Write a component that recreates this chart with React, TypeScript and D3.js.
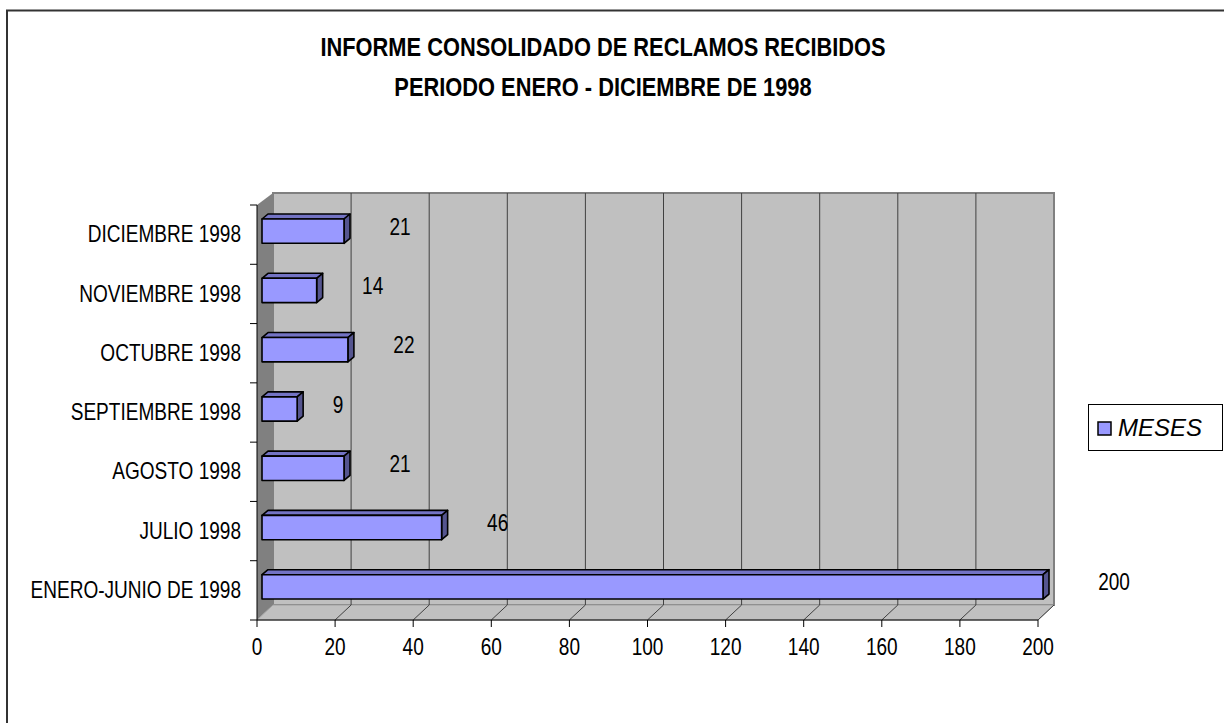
import React from "react";
import * as d3 from "d3";

const categories = [
  "DICIEMBRE 1998",
  "NOVIEMBRE 1998",
  "OCTUBRE 1998",
  "SEPTIEMBRE 1998",
  "AGOSTO 1998",
  "JULIO 1998",
  "ENERO-JUNIO DE 1998",
];
const values = [21, 14, 22, 9, 21, 46, 200];
const xTicks = [0, 20, 40, 60, 80, 100, 120, 140, 160, 180, 200];
const titleLines = [
  "INFORME CONSOLIDADO DE RECLAMOS RECIBIDOS",
  "PERIODO ENERO - DICIEMBRE DE 1998",
];
const seriesName = "MESES";

const W = 1224;
const H = 723;
const FONT = "Arial, 'Liberation Sans', sans-serif";
const SX = 0.81;

// 3D frame geometry
const frontTop = 205;
const frontBottom = 620;
const backTop = 193;
const backBottom = 605;

const xFront = d3.scaleLinear().domain([0, 200]).range([257, 1038]);
const xBack = d3.scaleLinear().domain([0, 200]).range([273, 1054]);
const xBar = d3.scaleLinear().domain([0, 200]).range([262, 1043]);
const yBand = d3.scaleBand<string>().domain(categories).range([frontTop, frontBottom]).paddingInner(0);

const barDx = 6;
const barDy = -5;

function CText(props: any) {
  const { x, y, sx = SX, children, ...rest } = props;
  return (
    <text transform={`translate(${x},${y}) scale(${sx},1)`} {...rest}>
      {children}
    </text>
  );
}

export default function App() {
  const bw = yBand.bandwidth();
  const barOff = bw * 0.236;
  const barH = bw * 0.41;
  const x0 = xFront(0);
  const x200f = xFront(200);
  const x0b = xBack(0);
  const x200b = xBack(200);

  return (
    <svg
      width={W}
      height={H}
      style={{ position: "absolute", left: 0, top: 0, background: "#fff" }}
      fontFamily={FONT}
    >
      {/* outer chart border */}
      <rect x={7} y={10.5} width={1300} height={800} fill="#fff" stroke="#333" strokeWidth={2} />

      {/* title */}
      {titleLines.map((t, i) => (
        <CText
          key={i}
          x={603}
          y={56 + i * 40}
          sx={0.84}
          textAnchor="middle"
          fontSize={26}
          fontWeight="bold"
          fill="#000"
        >
          {t}
        </CText>
      ))}

      {/* back wall */}
      <rect x={x0b} y={backTop} width={x200b - x0b} height={backBottom - backTop} fill="#c0c0c0" stroke="#808080" strokeWidth={2} />
      {/* left side wall */}
      <polygon
        points={`${x0},${frontTop} ${x0b},${backTop} ${x0b},${backBottom} ${x0},${frontBottom}`}
        fill="#808080"
      />
      {/* floor */}
      <polygon
        points={`${x0},${frontBottom} ${x0b},${backBottom} ${x200b},${backBottom} ${x200f},${frontBottom}`}
        fill="#c0c0c0"
        stroke="#a0a0a0"
        strokeWidth={1}
      />
      {/* gridlines on back wall and floor */}
      {xTicks.slice(1).map((t) => (
        <g key={t}>
          {t < 200 && (
            <line x1={xBack(t)} x2={xBack(t)} y1={backTop} y2={backBottom} stroke="#404040" strokeWidth={1} />
          )}
          <line x1={xFront(t)} y1={frontBottom} x2={xBack(t)} y2={backBottom} stroke="#404040" strokeWidth={1} />
        </g>
      ))}
      <line x1={x200b} y1={backTop} x2={x200b} y2={backBottom} stroke="#808080" strokeWidth={2} />

      {/* axes */}
      <line x1={x0} y1={frontTop} x2={x0} y2={frontBottom} stroke="#000" strokeWidth={1} />
      <line x1={x0} y1={frontBottom} x2={x200f} y2={frontBottom} stroke="#000" strokeWidth={1} />
      {categories.map((c) => (
        <line key={c} x1={x0 - 7} x2={x0} y1={yBand(c)!} y2={yBand(c)!} stroke="#000" />
      ))}
      <line x1={x0 - 7} x2={x0} y1={frontBottom} y2={frontBottom} stroke="#000" />
      {xTicks.map((t) => (
        <g key={t}>
          <line x1={xFront(t)} x2={xFront(t)} y1={frontBottom} y2={frontBottom + 7} stroke="#000" />
          <CText x={xFront(t)} y={647} textAnchor="middle" dominantBaseline="central" fontSize={23.5} fill="#000">
            {t}
          </CText>
        </g>
      ))}

      {/* category labels */}
      {categories.map((c) => (
        <CText
          key={c}
          x={241}
          y={yBand(c)! + bw / 2}
          textAnchor="end"
          dominantBaseline="central"
          fontSize={23.5}
          fill="#000"
        >
          {c}
        </CText>
      ))}

      {/* bars */}
      {categories.map((c, i) => {
        const v = values[i];
        const top = yBand(c)! + barOff;
        const xl = xBar(0);
        const xr = xBar(v);
        const bot = top + barH;
        return (
          <g key={c} stroke="#000" strokeWidth={1.6} strokeLinejoin="round">
            <polygon
              points={`${xl},${top} ${xl + barDx},${top + barDy} ${xr + barDx},${top + barDy} ${xr},${top}`}
              fill="#7373c4"
            />
            <polygon
              points={`${xr},${top} ${xr + barDx},${top + barDy} ${xr + barDx},${bot + barDy} ${xr},${bot}`}
              fill="#55558f"
            />
            <rect x={xl} y={top} width={xr - xl} height={barH} fill="#9999ff" />
          </g>
        );
      })}

      {/* value labels */}
      {categories.map((c, i) => {
        const v = values[i];
        const digits = String(v).length;
        const top = yBand(c)! + barOff;
        return (
          <CText
            key={c}
            x={xBar(v) + 26 + digits * 15}
            y={top + 8}
            textAnchor="middle"
            dominantBaseline="central"
            fontSize={23.5}
            fill="#000"
          >
            {v}
          </CText>
        );
      })}

      {/* legend */}
      <rect x={1088.5} y={404.5} width={134} height={46} fill="#fff" stroke="#000" strokeWidth={1} />
      <rect x={1098} y={422} width={13} height={13} fill="#9999ff" stroke="#000" strokeWidth={1.5} />
      <CText x={1118} y={427} sx={1.0} dominantBaseline="central" fontSize={24} fontStyle="italic" fill="#000">
        {seriesName}
      </CText>
    </svg>
  );
}
